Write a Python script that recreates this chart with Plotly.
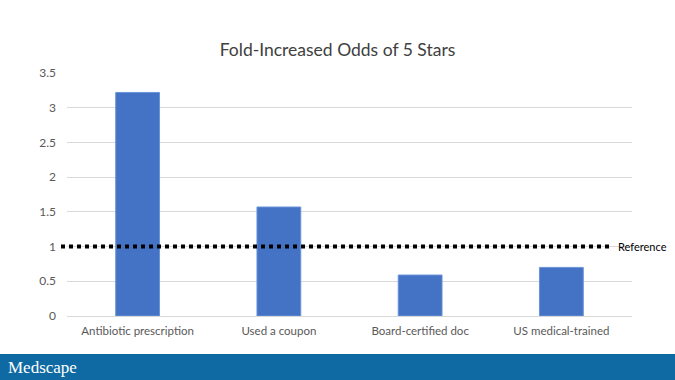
import plotly.graph_objects as go

categories = ["Antibiotic prescription", "Used a coupon", "Board-certified doc", "US medical-trained"]
odds = [3.22, 1.57, 0.59, 0.70]
reference_value = 1.0
reference_label = "Reference"
y_ticks = [0, 0.5, 1, 1.5, 2, 2.5, 3, 3.5]
y_tick_labels = ["0", "0.5", "1", "1.5", "2", "2.5", "3", "3.5"]
title_text = "Fold-Increased Odds of 5 Stars"
brand_text = "Medscape"

FONT = "Lato"

fig = go.Figure()
fig.add_trace(go.Bar(
    x=categories, y=odds,
    marker=dict(color="#4472C4", line=dict(color="#6a93d8", width=1)),
    width=0.31,
    hoverinfo="x+y",
))

fig.add_shape(type="line", xref="paper", yref="y",
              x0=-0.0106, x1=0.966, y0=reference_value, y1=reference_value,
              line=dict(color="black", width=4, dash="dot"), layer="above")
fig.add_annotation(xref="paper", yref="y", x=0.972, y=reference_value,
                   text=reference_label, showarrow=False, xanchor="left", yanchor="middle",
                   font=dict(family=FONT, size=11, color="#000000"))

# bottom brand band
fig.add_shape(type="rect", xref="paper", yref="paper",
              x0=-0.2, x1=1.2, y0=-0.4, y1=(316 - 354) / 243,
              fillcolor="#0f6aa3", line=dict(width=0), layer="above")
fig.add_annotation(xref="paper", yref="paper", x=(6 - 67) / 565, y=(316 - 367) / 243,
                   text=brand_text, showarrow=False, xanchor="left", yanchor="middle",
                   font=dict(family="Liberation Serif", size=17, color="white"))

fig.update_layout(
    width=675, height=380,
    margin=dict(l=67, r=43, t=73, b=64),
    paper_bgcolor="white", plot_bgcolor="white",
    title=dict(text=title_text, x=0.5, xref="container", xanchor="center",
               y=1 - 50/380, yref="container", yanchor="middle",
               font=dict(family=FONT, size=17.5, color="#404040")),
    showlegend=False,
    font=dict(family=FONT),
)
fig.update_xaxes(showgrid=False, showline=False, ticks="", ticklabelstandoff=6,
                 tickfont=dict(family=FONT, size=11.5, color="#595959"))
fig.update_yaxes(range=[0, 3.5], tickvals=y_ticks, ticktext=y_tick_labels,
                 showgrid=True, gridcolor="#d9d9d9", gridwidth=1,
                 zeroline=True, zerolinecolor="#d9d9d9", zerolinewidth=1,
                 showline=False, ticks="", ticklabelstandoff=10,
                 tickfont=dict(family=FONT, size=12, color="#595959"))

fig.write_html("out.html", config={"displayModeBar": False},
               post_script="document.body.style.margin='0';document.body.style.overflow='hidden';")
